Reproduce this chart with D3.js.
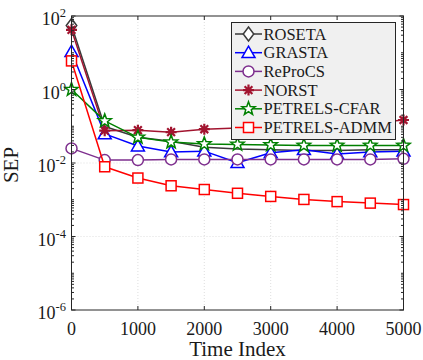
<!DOCTYPE html>
<html>
<head>
<meta charset="utf-8">
<script src="https://cdn.jsdelivr.net/npm/d3@7"></script>
<style>
  html, body { margin: 0; padding: 0; background: #fff; }
  svg { display: block; }
</style>
</head>
<body>
<svg id="chart" width="423" height="360"></svg>
<script>
// Time indices at which SEP was recorded
const timeIndex = [0, 500, 1000, 1500, 2000, 2500, 3000, 3500, 4000, 4500, 5000];

// SEP per algorithm
const roseta      = [55, 0.098, 0.050, 0.039, 0.027, 0.024, 0.023, 0.022, 0.022, 0.023, 0.023];
const grasta      = [10.7, 0.062, 0.029, 0.020, 0.021, 0.0102, 0.019, 0.023, 0.0176, 0.020, 0.021];
const reprocs     = [0.025, 0.012, 0.012, 0.0125, 0.0125, 0.0125, 0.0125, 0.0125, 0.0125, 0.0125, 0.013];
const norst       = [42, 0.076, 0.078, 0.069, 0.083, 0.09, 0.095, 0.10, 0.11, 0.12, 0.148];
const petrelsCfar = [1.0, 0.14, 0.050, 0.037, 0.033, 0.032, 0.031, 0.030, 0.030, 0.030, 0.030];
const petrelsAdmm = [6.0, 0.0079, 0.0039, 0.0024, 0.0019, 0.0015, 0.00123, 0.00102, 0.00089, 0.00081, 0.00074];

const seriesNames = ["ROSETA", "GRASTA", "ReProCS", "NORST", "PETRELS-CFAR", "PETRELS-ADMM"];

// Axis ticks
const xTicks = [0, 1000, 2000, 3000, 4000, 5000];
const yTickExponents = [2, 0, -2, -4, -6];

const series = [
  { name: seriesNames[0], values: roseta,      color: "#3a3a3a", marker: "diamond",  markerAt: [0] },
  { name: seriesNames[1], values: grasta,      color: "#0000ff", marker: "triangle" },
  { name: seriesNames[2], values: reprocs,     color: "#7e2f8e", marker: "circle" },
  { name: seriesNames[3], values: norst,       color: "#a2142f", marker: "asterisk" },
  { name: seriesNames[4], values: petrelsCfar, color: "#008000", marker: "star" },
  { name: seriesNames[5], values: petrelsAdmm, color: "#ff0000", marker: "square" }
];

const FONT = '"Liberation Serif"';
const svg = d3.select("#chart");
const L = 71.5, R = 403.5, T = 16, B = 310;

const x = d3.scaleLinear().domain([0, 5000]).range([L, R]);
const y = d3.scaleLog().domain([1e-6, 1e2]).range([B, T]);

const axisColor = "#262626";

// grid lines
const grid = svg.append("g");
xTicks.slice(1, -1).forEach(t => {
  grid.append("line").attr("x1", x(t)).attr("x2", x(t)).attr("y1", T).attr("y2", B)
    .attr("stroke", "#d6d6d6").attr("stroke-width", 0.8).attr("stroke-dasharray", "1,2");
});
yTickExponents.slice(1, -1).forEach(e => {
  grid.append("line").attr("x1", L).attr("x2", R).attr("y1", y(Math.pow(10, e))).attr("y2", y(Math.pow(10, e)))
    .attr("stroke", "#d6d6d6").attr("stroke-width", 0.8).attr("stroke-dasharray", "1,2");
});

// marker shapes
function drawMarker(g, type, cx, cy, color) {
  const sw = 1.5;
  if (type === "circle") {
    g.append("circle").attr("cx", cx).attr("cy", cy).attr("r", 5.5)
      .attr("fill", "#fff").attr("stroke", color).attr("stroke-width", sw);
  } else if (type === "square") {
    g.append("rect").attr("x", cx - 5).attr("y", cy - 5).attr("width", 10).attr("height", 10)
      .attr("fill", "#fff").attr("stroke", color).attr("stroke-width", sw);
  } else if (type === "triangle") {
    const s = 6.5;
    g.append("path").attr("d", `M${cx},${cy - s}L${cx + s},${cy + s * 0.75}L${cx - s},${cy + s * 0.75}Z`)
      .attr("fill", "#fff").attr("stroke", color).attr("stroke-width", sw);
  } else if (type === "diamond") {
    const s = 7;
    g.append("path").attr("d", `M${cx},${cy - s}L${cx + s * 0.75},${cy}L${cx},${cy + s}L${cx - s * 0.75},${cy}Z`)
      .attr("fill", "#fff").attr("stroke", color).attr("stroke-width", sw);
  } else if (type === "star") {
    const ro = 7, ri = 2.9;
    const pts = d3.range(10).map(i => {
      const a = -Math.PI / 2 + i * Math.PI / 5;
      const r = i % 2 === 0 ? ro : ri;
      return [cx + r * Math.cos(a), cy + r * Math.sin(a)];
    });
    g.append("path").attr("d", "M" + pts.map(p => p.join(",")).join("L") + "Z")
      .attr("fill", "#fff").attr("stroke", color).attr("stroke-width", sw);
  } else if (type === "asterisk") {
    const s = 5.5;
    let d = "";
    for (let i = 0; i < 4; i++) {
      const a = i * Math.PI / 4;
      d += `M${cx - s * Math.cos(a)},${cy - s * Math.sin(a)}L${cx + s * Math.cos(a)},${cy + s * Math.sin(a)}`;
    }
    g.append("path").attr("d", d).attr("fill", "none").attr("stroke", color).attr("stroke-width", 2.2);
  }
}

// series lines and markers
const line = d3.line().x((d, i) => x(timeIndex[i])).y(d => y(d));
series.forEach(s => {
  const g = svg.append("g");
  g.append("path").attr("d", line(s.values)).attr("fill", "none")
    .attr("stroke", s.color).attr("stroke-width", 1.5).attr("stroke-linejoin", "round");
  const idx = s.markerAt || d3.range(s.values.length);
  idx.forEach(i => drawMarker(g, s.marker, x(timeIndex[i]), y(s.values[i]), s.color));
});

// axes box with inward ticks
const ax = svg.append("g").attr("stroke", axisColor).attr("stroke-width", 1);
ax.append("rect").attr("x", L).attr("y", T).attr("width", R - L).attr("height", B - T).attr("fill", "none");
xTicks.forEach(t => {
  ax.append("line").attr("x1", x(t)).attr("x2", x(t)).attr("y1", B).attr("y2", B - 4);
  ax.append("line").attr("x1", x(t)).attr("x2", x(t)).attr("y1", T).attr("y2", T + 4);
});
for (let e = -6; e <= 2; e++) {
  const yy = y(Math.pow(10, e));
  const len = (e % 2 === 0) ? 4 : 2.5;
  ax.append("line").attr("x1", L).attr("x2", L + len).attr("y1", yy).attr("y2", yy);
  ax.append("line").attr("x1", R).attr("x2", R - len).attr("y1", yy).attr("y2", yy);
  if (e < 2) {
    for (let m = 2; m <= 9; m++) {
      const ym = y(m * Math.pow(10, e));
      ax.append("line").attr("x1", L).attr("x2", L + 2.5).attr("y1", ym).attr("y2", ym);
      ax.append("line").attr("x1", R).attr("x2", R - 2.5).attr("y1", ym).attr("y2", ym);
    }
  }
}

// tick labels
const labels = svg.append("g").attr("fill", "#1a1a1a");
xTicks.forEach(t => {
  labels.append("text").attr("x", x(t)).attr("y", 335).attr("text-anchor", "middle")
    .style("font-family", FONT).style("font-size", "18px").text(t);
});
yTickExponents.forEach(e => {
  const yy = y(Math.pow(10, e));
  const txt = labels.append("text").attr("x", 66).attr("y", yy + 9).attr("text-anchor", "end")
    .style("font-family", FONT).style("font-size", "18px");
  txt.append("tspan").text("10");
  txt.append("tspan").style("font-size", "12.5px").attr("dy", -8).text(e < 0 ? "-" + (-e) : String(e));
});

// axis titles
labels.append("text").attr("x", (L + R) / 2).attr("y", 356).attr("text-anchor", "middle")
  .style("font-family", FONT).style("font-size", "21px").text("Time Index");
labels.append("text").attr("transform", `translate(18,${(T + B) / 2 + 2}) rotate(-90)`)
  .attr("text-anchor", "middle").style("font-family", FONT).style("font-size", "21px").text("SEP");

// legend
const lg = svg.append("g");
const lx = 231.5, ly = 22.5, lw = 164, lh = 117;
lg.append("rect").attr("x", lx).attr("y", ly).attr("width", lw).attr("height", lh)
  .attr("fill", "#f0f0f0").attr("stroke", axisColor).attr("stroke-width", 1);
series.forEach((s, i) => {
  const cy = 34 + i * 18.7;
  lg.append("line").attr("x1", 235).attr("x2", 262).attr("y1", cy).attr("y2", cy)
    .attr("stroke", s.color).attr("stroke-width", 1.5);
  drawMarker(lg, s.marker, 248.5, cy, s.color);
  lg.append("text").attr("x", 263.5).attr("y", cy + 5.5)
    .style("font-family", FONT).style("font-size", "16.5px")
    .attr("fill", "#1a1a1a").text(s.name);
});
</script>
</body>
</html>
